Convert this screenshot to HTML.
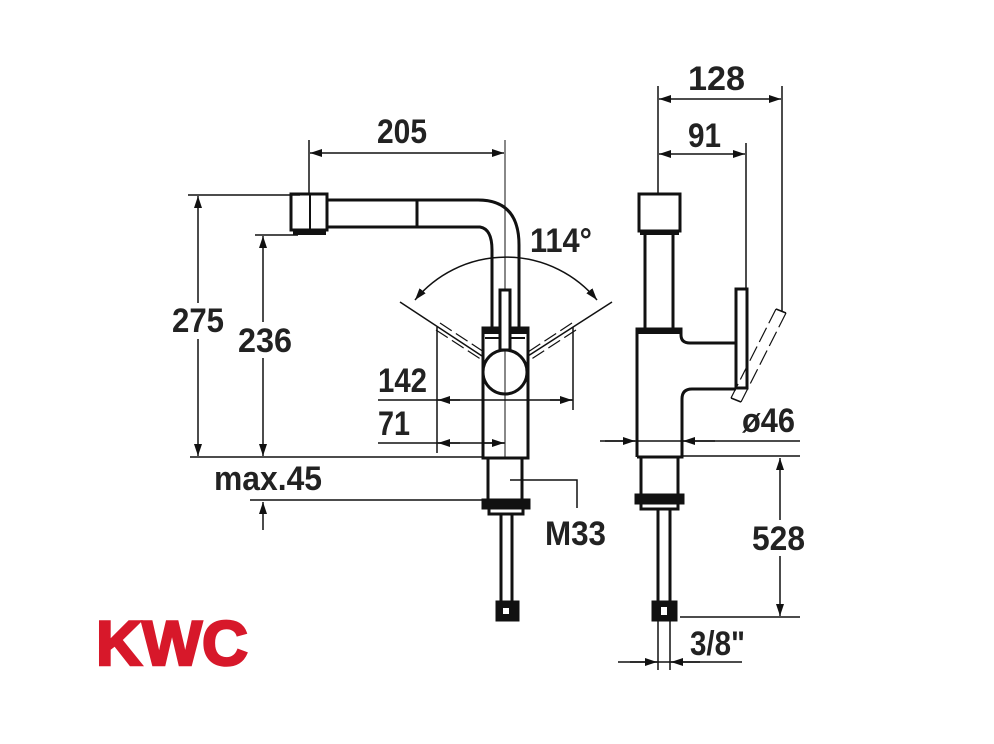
<!DOCTYPE html>
<html><head><meta charset="utf-8"><style>
html,body{margin:0;padding:0;background:#fff;}
svg{display:block;}
text{font-family:"Liberation Sans",sans-serif;font-weight:bold;fill:#222;font-size:34px;}
</style></head><body>
<svg width="994" height="744" viewBox="0 0 994 744" xmlns="http://www.w3.org/2000/svg">
<defs>
<marker id="a" viewBox="0 0 12 8" refX="12" refY="4" markerWidth="12" markerHeight="8" orient="auto-start-reverse" markerUnits="userSpaceOnUse"><path d="M0,0 L12,4 L0,8 Z" fill="#111"/></marker>
</defs>
<g stroke="#111" stroke-width="1.5" fill="none">
<line x1="309" y1="140" x2="309" y2="195"/>
<line x1="505" y1="140" x2="505" y2="457" stroke-width="1"/>
<line x1="310" y1="153" x2="504" y2="153" marker-start="url(#a)" marker-end="url(#a)"/>
<line x1="188" y1="195" x2="300" y2="195"/>
<line x1="198" y1="196" x2="198" y2="456" marker-start="url(#a)" marker-end="url(#a)"/>
<line x1="255" y1="235" x2="298" y2="235"/>
<line x1="263" y1="236" x2="263" y2="456" marker-start="url(#a)" marker-end="url(#a)"/>
<line x1="190" y1="457" x2="483" y2="457"/>
<line x1="437" y1="327" x2="437" y2="453"/>
<line x1="573" y1="327" x2="573" y2="410"/>
<line x1="378" y1="400" x2="573" y2="400"/>
<line x1="460" y1="400" x2="438" y2="400" marker-end="url(#a)"/>
<line x1="550" y1="400" x2="572" y2="400" marker-end="url(#a)"/>
<line x1="378" y1="443" x2="505" y2="443"/>
<line x1="460" y1="443" x2="438" y2="443" marker-end="url(#a)"/>
<line x1="482" y1="443" x2="504" y2="443" marker-end="url(#a)"/>
<line x1="250" y1="500" x2="487" y2="500"/>
<line x1="263" y1="530" x2="263" y2="502" marker-end="url(#a)"/>
<polyline points="510,480 577,480 577,508"/>
<path d="M415,300 A118,118 0 0 1 597,300" marker-start="url(#a)" marker-end="url(#a)"/>
<line x1="400" y1="302" x2="482" y2="356"/>
<line x1="612" y1="302" x2="528" y2="356"/>
<g stroke-dasharray="14,5" stroke-width="1.2">
<line x1="440" y1="323" x2="484" y2="352"/>
<line x1="436" y1="330" x2="482" y2="360"/>
<line x1="572" y1="323" x2="528" y2="352"/>
<line x1="576" y1="330" x2="530" y2="360"/>
</g>
</g>
<g stroke="#111" stroke-width="3" fill="none">
<rect x="291" y="194" width="36" height="36"/>
<line x1="310" y1="194" x2="310" y2="230" stroke-width="2"/>
<line x1="293" y1="233" x2="326" y2="233" stroke-width="4"/>
<path d="M327,200 L478,200 Q519,200 519,245 L519,328"/>
<path d="M327,227 L480,227 Q492,229 492,250 L492,328"/>
<line x1="417" y1="200" x2="417" y2="227"/>
<rect x="483" y="328" width="45" height="130"/>
<line x1="483" y1="331" x2="528" y2="331" stroke-width="6"/>
<circle cx="505" cy="372" r="22"/>
<line x1="485" y1="338" x2="525" y2="338" stroke-width="2"/>
<rect x="500" y="290" width="10" height="60" fill="#fff"/>
<rect x="488" y="458" width="34" height="42"/>
<rect x="483" y="500" width="46" height="8" fill="#111"/>
<rect x="489" y="508" width="34" height="6"/>
<line x1="501" y1="514" x2="501" y2="602"/>
<line x1="512" y1="514" x2="512" y2="602"/>
<rect x="497" y="602" width="21" height="18" fill="#111"/>
</g>
<rect x="503" y="608" width="6" height="6" fill="#fff"/>
<g stroke="#111" stroke-width="1.5" fill="none">
<line x1="658" y1="86" x2="658" y2="193"/>
<line x1="782" y1="86" x2="782" y2="312"/>
<line x1="746" y1="143" x2="746" y2="288"/>
<line x1="659" y1="99" x2="781" y2="99" marker-start="url(#a)" marker-end="url(#a)"/>
<line x1="659" y1="154" x2="745" y2="154" marker-start="url(#a)" marker-end="url(#a)"/>
<line x1="600" y1="441" x2="800" y2="441"/>
<line x1="605" y1="441" x2="635" y2="441" marker-end="url(#a)"/>
<line x1="715" y1="441" x2="683" y2="441" marker-end="url(#a)"/>
<line x1="682" y1="456" x2="800" y2="456"/>
<line x1="680" y1="617" x2="800" y2="617"/>
<line x1="780" y1="458" x2="780" y2="616" marker-start="url(#a)" marker-end="url(#a)"/>
<line x1="658" y1="620" x2="658" y2="670"/>
<line x1="670" y1="620" x2="670" y2="670"/>
<line x1="618" y1="662" x2="742" y2="662"/>
<line x1="630" y1="662" x2="657" y2="662" marker-end="url(#a)"/>
<line x1="700" y1="662" x2="671" y2="662" marker-end="url(#a)"/>
<g stroke-dasharray="16,5" stroke-width="1.2">
<line x1="776" y1="309" x2="731" y2="398"/>
<line x1="786" y1="313" x2="741" y2="402"/>
</g>
<line x1="731" y1="398" x2="741" y2="402"/>
<line x1="776" y1="309" x2="786" y2="313"/>
</g>
<g stroke="#111" stroke-width="3" fill="none">
<rect x="639" y="194" width="41" height="37"/>
<line x1="640" y1="233" x2="679" y2="233" stroke-width="4"/>
<line x1="645" y1="234" x2="645" y2="328"/>
<line x1="673" y1="234" x2="673" y2="328"/>
<path d="M637,457 L637,329 L681,329 L681,335 Q681,343 690,343 L736,343"/>
<line x1="637" y1="331" x2="681" y2="331" stroke-width="6"/>
<path d="M736,389 L692,389 Q682,389 682,399 L682,457 L637,457"/>
<rect x="736" y="289" width="11" height="99"/>
<rect x="641" y="457" width="37" height="38"/>
<rect x="636" y="495" width="47" height="8" fill="#111"/>
<rect x="641" y="503" width="37" height="6"/>
<line x1="658" y1="509" x2="658" y2="602"/>
<line x1="670" y1="509" x2="670" y2="602"/>
<rect x="653" y="602" width="23" height="18" fill="#111"/>
</g>
<rect x="661" y="607" width="6" height="8" fill="#fff"/>
<rect x="168" y="303" width="60" height="36" fill="#fff"/>
<rect x="236" y="322" width="60" height="36" fill="#fff"/>
<rect x="750" y="520" width="60" height="36" fill="#fff"/>
<text x="377" y="143" textLength="50" lengthAdjust="spacingAndGlyphs">205</text>
<text x="688" y="90" textLength="57" lengthAdjust="spacingAndGlyphs">128</text>
<text x="688" y="147" textLength="33" lengthAdjust="spacingAndGlyphs">91</text>
<text x="530" y="252" textLength="62" lengthAdjust="spacingAndGlyphs">114°</text>
<text x="172" y="332" textLength="52" lengthAdjust="spacingAndGlyphs">275</text>
<text x="238" y="352" textLength="54" lengthAdjust="spacingAndGlyphs">236</text>
<text x="378" y="392" textLength="49" lengthAdjust="spacingAndGlyphs">142</text>
<text x="378" y="435" textLength="32" lengthAdjust="spacingAndGlyphs">71</text>
<text x="214" y="490" textLength="108" lengthAdjust="spacingAndGlyphs">max.45</text>
<text x="545" y="545" textLength="61" lengthAdjust="spacingAndGlyphs">M33</text>
<text x="742" y="432" textLength="53" lengthAdjust="spacingAndGlyphs">ø46</text>
<text x="752" y="550" textLength="53" lengthAdjust="spacingAndGlyphs">528</text>
<text x="690" y="655" textLength="55" lengthAdjust="spacingAndGlyphs">3/8"</text>
<text x="96" y="665" style="font-size:63px;fill:#d7182a;stroke:#d7182a;stroke-width:2.5;font-weight:900;" textLength="152" lengthAdjust="spacingAndGlyphs">KWC</text>
</svg>
</body></html>
